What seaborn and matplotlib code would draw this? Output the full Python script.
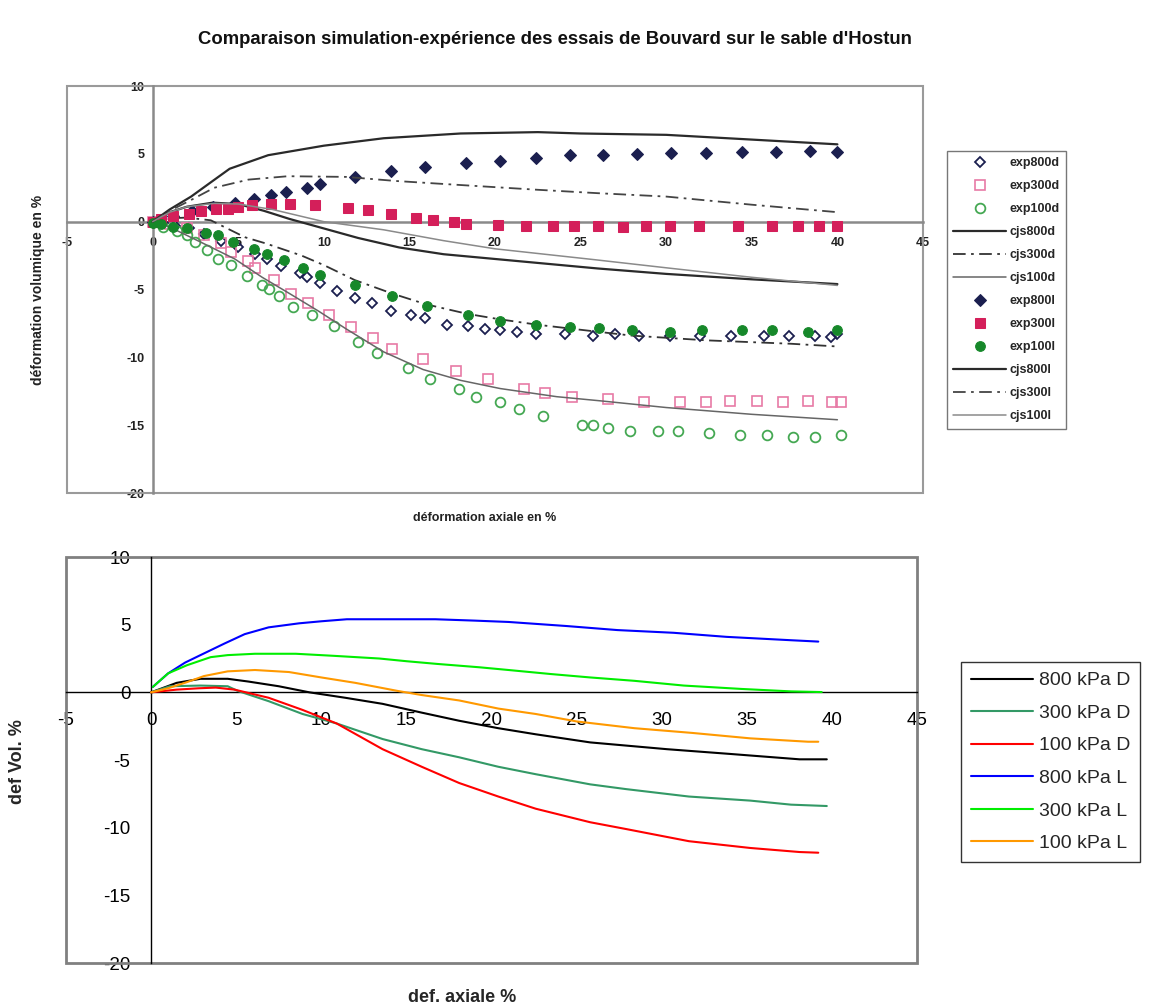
import matplotlib
matplotlib.use("Agg")
import matplotlib.pyplot as plt
from matplotlib.patches import Rectangle
import seaborn as sns

# ---------- top chart: experiments vs CJS simulation (Bouvard, Hostun sand) ----------
exp800d_x = [0, 0.6, 1.3, 2.1, 3.0, 4.0, 5.0, 6.0, 6.7, 7.5, 8.6, 9.0, 9.8, 10.8, 11.8, 12.8, 13.9, 15.1, 15.9,
             17.2, 18.4, 19.4, 20.3, 21.3, 22.4, 24.1, 25.7, 27.0, 28.4, 30.2, 32.0, 33.8, 35.7, 37.2, 38.7, 39.6, 40.0]
exp800d_y = [0, -0.1, -0.3, -0.5, -0.9, -1.4, -1.9, -2.4, -2.75, -3.3, -3.75, -4.1, -4.55, -5.1, -5.6, -6.0, -6.6,
             -6.9, -7.1, -7.6, -7.7, -7.9, -8.0, -8.1, -8.3, -8.3, -8.4, -8.3, -8.4, -8.4, -8.4, -8.4, -8.4, -8.4,
             -8.4, -8.5, -8.3]

exp300d_x = [0, 1.0, 2.0, 3.0, 4.0, 4.6, 5.6, 6.0, 7.1, 8.1, 9.1, 10.3, 11.6, 12.9, 14.0, 15.8, 17.7, 19.6, 21.7,
             22.9, 24.5, 26.6, 28.7, 30.8, 32.3, 33.7, 35.3, 36.8, 38.3, 39.7, 40.2]
exp300d_y = [0, -0.2, -0.5, -1.0, -1.6, -2.2, -2.9, -3.4, -4.3, -5.3, -6.0, -6.9, -7.8, -8.6, -9.4, -10.1, -11.0,
             -11.6, -12.3, -12.6, -12.9, -13.1, -13.3, -13.3, -13.3, -13.2, -13.2, -13.3, -13.2, -13.3, -13.3]

exp100d_x = [0, 0.6, 1.4, 2.0, 2.5, 3.2, 3.8, 4.6, 5.5, 6.4, 6.8, 7.4, 8.2, 9.3, 10.6, 12.0, 13.1, 14.9, 16.2,
             17.9, 18.9, 20.3, 21.4, 22.8, 25.1, 25.7, 26.6, 27.9, 29.5, 30.7, 32.5, 34.3, 35.9, 37.4, 38.7, 40.2]
exp100d_y = [0, -0.4, -0.7, -1.0, -1.5, -2.1, -2.75, -3.2, -4.0, -4.7, -4.95, -5.5, -6.3, -6.9, -7.7, -8.9, -9.7,
             -10.8, -11.6, -12.3, -12.9, -13.3, -13.8, -14.3, -15.0, -15.0, -15.2, -15.4, -15.4, -15.4, -15.6,
             -15.7, -15.7, -15.85, -15.9, -15.7]

exp800l_x = [0, 1.2, 2.3, 3.5, 4.8, 5.9, 6.9, 7.8, 9.0, 9.8, 11.8, 13.9, 15.9, 18.3, 20.3, 22.4, 24.4, 26.3, 28.3,
             30.3, 32.3, 34.4, 36.4, 38.4, 40.0]
exp800l_y = [0, 0.4, 0.8, 1.1, 1.4, 1.7, 2.0, 2.2, 2.5, 2.8, 3.3, 3.7, 4.0, 4.3, 4.5, 4.7, 4.9, 4.95, 5.0, 5.05,
             5.05, 5.1, 5.15, 5.2, 5.1]

exp300l_x = [0, 0.5, 1.2, 2.1, 2.8, 3.7, 4.4, 5.0, 5.8, 6.9, 8.0, 9.5, 11.4, 12.6, 13.9, 15.4, 16.4, 17.6, 18.3,
             20.2, 21.8, 23.4, 24.6, 26.0, 27.5, 28.8, 30.2, 31.9, 34.2, 36.2, 37.7, 38.9, 40.0]
exp300l_y = [0, 0.2, 0.4, 0.6, 0.75, 0.9, 0.95, 1.05, 1.2, 1.3, 1.3, 1.2, 1.0, 0.85, 0.6, 0.3, 0.1, -0.05, -0.2,
             -0.25, -0.3, -0.35, -0.35, -0.35, -0.4, -0.3, -0.3, -0.3, -0.3, -0.3, -0.35, -0.3, -0.35]

exp100l_x = [0, 0.5, 1.2, 2.0, 3.1, 3.8, 4.7, 5.9, 6.7, 7.7, 8.8, 9.8, 11.8, 14.0, 16.0, 18.4, 20.3, 22.4, 24.4,
             26.1, 28.0, 30.2, 32.1, 34.4, 36.2, 38.3, 40.0]
exp100l_y = [-0.1, -0.15, -0.4, -0.5, -0.8, -1.0, -1.5, -2.0, -2.4, -2.8, -3.4, -3.9, -4.7, -5.5, -6.2, -6.85,
             -7.3, -7.6, -7.8, -7.85, -7.95, -8.15, -8.0, -8.0, -7.95, -8.1, -8.0]

cjs800d_x = [0, 1, 2, 3.5, 5, 6.5, 8, 10, 12, 14.4, 17, 20, 23, 26, 30, 35, 40]
cjs800d_y = [0, 0.7, 1.1, 1.4, 1.3, 0.8, 0.2, -0.5, -1.2, -1.9, -2.4, -2.75, -3.1, -3.45, -3.85, -4.25, -4.6]

cjs300d_x = [0, 1, 2, 3.4, 5.4, 6.6, 8.7, 10, 11.8, 14, 16, 18.4, 20.3, 22.5, 25.9, 28, 32.4, 37.3, 40]
cjs300d_y = [0, 0.25, 0.3, 0.1, -1.15, -1.6, -2.5, -3.2, -4.3, -5.3, -6.1, -6.8, -7.2, -7.6, -8.1, -8.4, -8.75,
             -9.0, -9.2]

cjs100d_x = [0, 1, 2.8, 4.8, 6.4, 8, 9.7, 11.3, 13.5, 15.8, 18, 20.3, 23.6, 26.1, 30, 35, 40]
cjs100d_y = [0, -0.4, -1.5, -2.75, -4.1, -5.3, -6.6, -7.9, -9.6, -10.9, -11.7, -12.3, -12.9, -13.2, -13.7, -14.2,
             -14.6]

cjs800l_x = [0, 1, 2.25, 3.4, 4.5, 6.75, 10, 13.5, 18, 22.5, 25, 30, 35, 40]
cjs800l_y = [0, 0.9, 1.85, 2.9, 3.9, 4.9, 5.6, 6.15, 6.5, 6.6, 6.5, 6.4, 6.05, 5.7]

cjs300l_x = [0, 1, 2.25, 3.6, 5.6, 7.9, 11.3, 14.2, 18, 22.5, 26, 30, 35, 40]
cjs300l_y = [0, 0.8, 1.6, 2.5, 3.1, 3.35, 3.3, 3.0, 2.7, 2.35, 2.1, 1.85, 1.25, 0.7]

cjs100l_x = [0, 1, 2, 3.6, 5, 7, 10, 13.5, 17, 20, 25.8, 30, 35, 40]
cjs100l_y = [0, 0.7, 1.1, 1.35, 1.3, 0.9, 0.0, -0.6, -1.4, -2.0, -2.8, -3.4, -4.1, -4.7]

# ---------- bottom chart: simulated curves ----------
d800_x = [0, 1.5, 2.9, 4.5, 5.7, 7.5, 9.3, 11.4, 13.6, 15.9, 18.1, 20.4, 22.6, 25.8, 30.3, 34, 38.1, 39.7]
d800_y = [0, 0.7, 1.0, 1.0, 0.8, 0.45, 0, -0.4, -0.85, -1.5, -2.1, -2.65, -3.1, -3.7, -4.2, -4.55, -4.95, -4.95]

d300_x = [0, 1.1, 2.9, 4.5, 5.1, 6.9, 8.9, 10.9, 13.6, 15.9, 18.1, 20.4, 22.6, 25.8, 27.9, 31.6, 35.2, 37.6, 39.7]
d300_y = [0, 0.45, 0.5, 0.45, 0.1, -0.65, -1.6, -2.3, -3.45, -4.2, -4.8, -5.5, -6.05, -6.8, -7.15, -7.7, -8.0,
          -8.3, -8.4]

d100_x = [0, 1.5, 2.8, 3.8, 4.9, 6.9, 8.9, 10.9, 13.6, 15.9, 18.1, 20.4, 22.6, 25.8, 27.9, 31.6, 35.2, 38.1, 39.2]
d100_y = [0, 0.2, 0.3, 0.35, 0.2, -0.4, -1.3, -2.3, -4.2, -5.5, -6.7, -7.7, -8.6, -9.6, -10.1, -11.0, -11.5,
          -11.8, -11.85]

l800_x = [0.1, 1.0, 2.0, 2.9, 4.3, 5.5, 6.9, 8.7, 10, 11.5, 13.6, 16.7, 19, 21, 24.4, 27.4, 30.7, 33.8, 37.6, 39.2]
l800_y = [0.4, 1.4, 2.2, 2.75, 3.6, 4.3, 4.8, 5.1, 5.25, 5.4, 5.4, 5.4, 5.3, 5.2, 4.9, 4.6, 4.4, 4.1, 3.85, 3.75]

l300_x = [0.1, 1.0, 2.1, 3.5, 4.5, 6.1, 8.5, 10.7, 13.4, 15, 16.8, 19.3, 21, 23.5, 25.8, 28.4, 31.3, 34.7, 37.6, 39.4]
l300_y = [0.4, 1.4, 2.0, 2.6, 2.75, 2.85, 2.85, 2.7, 2.5, 2.3, 2.1, 1.85, 1.65, 1.35, 1.1, 0.85, 0.5, 0.25, 0.07,
          0.02]

l100_x = [0, 1, 2.1, 3.1, 4.5, 6.1, 8.1, 10, 12, 14.5, 15.9, 18.1, 20.4, 22.6, 25, 28.4, 31.8, 35.2, 38.6, 39.2]
l100_y = [0, 0.3, 0.75, 1.2, 1.55, 1.65, 1.5, 1.1, 0.7, 0.1, -0.2, -0.6, -1.2, -1.6, -2.15, -2.65, -3.0, -3.4,
          -3.65, -3.65]

sns.set_style("white")
plt.rcParams['font.family'] = ['Liberation Sans', 'DejaVu Sans']
plt.rcParams['axes.unicode_minus'] = False

W, H = 1149, 1008
fig = plt.figure(figsize=(W / 100, H / 100), dpi=100)
ax1 = fig.add_axes([67 / W, 1 - 493 / H, (923 - 67) / W, (493 - 86) / H])
ax2 = fig.add_axes([66 / W, 1 - 963 / H, (917 - 66) / W, (963 - 557) / H])


def excel_axes(ax, frame_col, frame_lw, axis_col, axis_lw):
    ax.set_xlim(-5, 45)
    ax.set_ylim(-20, 10)
    ax.set_xticks(range(-5, 46, 5))
    ax.set_yticks(range(-20, 11, 5))
    for s in ['top', 'right']:
        ax.spines[s].set_visible(False)
    for s in ['left', 'bottom']:
        ax.spines[s].set_position(('data', 0))
        ax.spines[s].set_color(axis_col)
        ax.spines[s].set_linewidth(axis_lw)
        ax.spines[s].set_zorder(1)
    ax.add_patch(Rectangle((0, 0), 1, 1, transform=ax.transAxes, fill=False,
                           ec=frame_col, lw=frame_lw, clip_on=False, zorder=1))
    ax.set_xlabel("")
    ax.set_ylabel("")


# top chart
navy = '#1b1f4f'
pink = '#d41f5a'
pink_open = '#e77aa6'
green = '#16882a'
green_open = '#45a853'
dark = '#2a2a2a'
dashdot = (0, (7, 3, 1.5, 3))

pts = dict(linestyle='', estimator=None, sort=False)
ms = 6.5

sns.lineplot(x=exp800d_x, y=exp800d_y, ax=ax1, marker='D', markersize=5.5, markerfacecolor='none',
             markeredgecolor=navy, markeredgewidth=1.3, color=navy, label='exp800d', **pts)
sns.lineplot(x=exp300d_x, y=exp300d_y, ax=ax1, marker='s', markersize=ms, markerfacecolor='none',
             markeredgecolor=pink_open, markeredgewidth=1.2, color=pink_open, label='exp300d', **pts)
sns.lineplot(x=exp100d_x, y=exp100d_y, ax=ax1, marker='o', markersize=7, markerfacecolor='none',
             markeredgecolor=green_open, markeredgewidth=1.3, color=green_open, label='exp100d', **pts)
sns.lineplot(x=cjs800d_x, y=cjs800d_y, ax=ax1, color=dark, lw=1.6, label='cjs800d', estimator=None, sort=False)
sns.lineplot(x=cjs300d_x, y=cjs300d_y, ax=ax1, color='#333333', lw=1.3, linestyle=dashdot,
             label='cjs300d', estimator=None, sort=False)
sns.lineplot(x=cjs100d_x, y=cjs100d_y, ax=ax1, color='#666666', lw=1.1, label='cjs100d', estimator=None, sort=False)
sns.lineplot(x=exp800l_x, y=exp800l_y, ax=ax1, marker='D', markersize=6, markerfacecolor=navy,
             markeredgecolor=navy, color=navy, label='exp800l', **pts)
sns.lineplot(x=exp300l_x, y=exp300l_y, ax=ax1, marker='s', markersize=ms, markerfacecolor=pink,
             markeredgecolor=pink, color=pink, label='exp300l', **pts)
sns.lineplot(x=exp100l_x, y=exp100l_y, ax=ax1, marker='o', markersize=7, markerfacecolor=green,
             markeredgecolor=green, color=green, label='exp100l', **pts)
sns.lineplot(x=cjs800l_x, y=cjs800l_y, ax=ax1, color=dark, lw=1.6, label='cjs800l', estimator=None, sort=False)
sns.lineplot(x=cjs300l_x, y=cjs300l_y, ax=ax1, color='#444444', lw=1.3, linestyle=dashdot,
             label='cjs300l', estimator=None, sort=False)
sns.lineplot(x=cjs100l_x, y=cjs100l_y, ax=ax1, color='#8a8a8a', lw=1.1, label='cjs100l', estimator=None, sort=False)

excel_axes(ax1, '#9a9a9a', 1.5, '#8a8a8a', 1.8)
ax1.tick_params(axis='both', labelsize=9, colors='#222222', length=3, width=1)
ax1.tick_params(axis='y', direction='out', pad=3)
ax1.tick_params(axis='x', direction='out', pad=8)
for t in ax1.get_xticklabels() + ax1.get_yticklabels():
    t.set_fontweight('bold')

h, l = ax1.get_legend_handles_labels()
leg1 = ax1.legend(h, l, loc='upper left', bbox_to_anchor=(947 / W, 1 - 151 / H), bbox_transform=fig.transFigure,
                  frameon=True, fancybox=False, edgecolor='#555555', prop={'size': 9, 'weight': 'bold'},
                  handlelength=4.2, labelspacing=0.88, borderpad=0.5, handletextpad=0.3, borderaxespad=0)
leg1.get_frame().set_linewidth(1.0)

fig.text(555 / W, 1 - 40 / H, "Comparaison simulation-expérience des essais de Bouvard sur le sable d'Hostun",
         ha='center', va='center', fontsize=13.3, fontweight='bold', color='#111111')
fig.text(38 / W, 1 - 290 / H, 'déformation volumique en %', rotation=90, ha='center', va='center',
         fontsize=10, fontweight='bold', color='#222222')
fig.text(485 / W, 1 - 518 / H, 'déformation axiale en %', ha='center', va='center',
         fontsize=9, fontweight='bold', color='#222222')

# bottom chart
sns.lineplot(x=d800_x, y=d800_y, ax=ax2, color='black', lw=1.5, label='800 kPa D', estimator=None, sort=False)
sns.lineplot(x=d300_x, y=d300_y, ax=ax2, color='#339966', lw=1.5, label='300 kPa D', estimator=None, sort=False)
sns.lineplot(x=d100_x, y=d100_y, ax=ax2, color='#ff0000', lw=1.5, label='100 kPa D', estimator=None, sort=False)
sns.lineplot(x=l800_x, y=l800_y, ax=ax2, color='#0000ff', lw=1.5, label='800 kPa L', estimator=None, sort=False)
sns.lineplot(x=l300_x, y=l300_y, ax=ax2, color='#00ee00', lw=1.5, label='300 kPa L', estimator=None, sort=False)
sns.lineplot(x=l100_x, y=l100_y, ax=ax2, color='#ff9900', lw=1.5, label='100 kPa L', estimator=None, sort=False)

excel_axes(ax2, '#808080', 2.0, 'black', 1.0)
ax2.tick_params(axis='both', labelsize=13.5, colors='black', length=5, width=1, direction='out')
ax2.tick_params(axis='y', pad=10)
ax2.tick_params(axis='x', pad=9)

h, l = ax2.get_legend_handles_labels()
leg2 = ax2.legend(h, l, loc='upper left', bbox_to_anchor=(961 / W, 1 - 662 / H), bbox_transform=fig.transFigure,
                  frameon=True, fancybox=False, edgecolor='black', fontsize=14,
                  handlelength=3.2, labelspacing=0.77, borderpad=0.5, handletextpad=0.3, borderaxespad=0)
leg2.get_frame().set_linewidth(1.0)

fig.text(18 / W, 1 - 762 / H, 'def Vol. %', rotation=90, ha='center', va='center',
         fontsize=13, fontweight='bold')
fig.text(462 / W, 1 - 998 / H, 'def. axiale %', ha='center', va='center', fontsize=13, fontweight='bold')

fig.savefig('out.png', dpi=100)
